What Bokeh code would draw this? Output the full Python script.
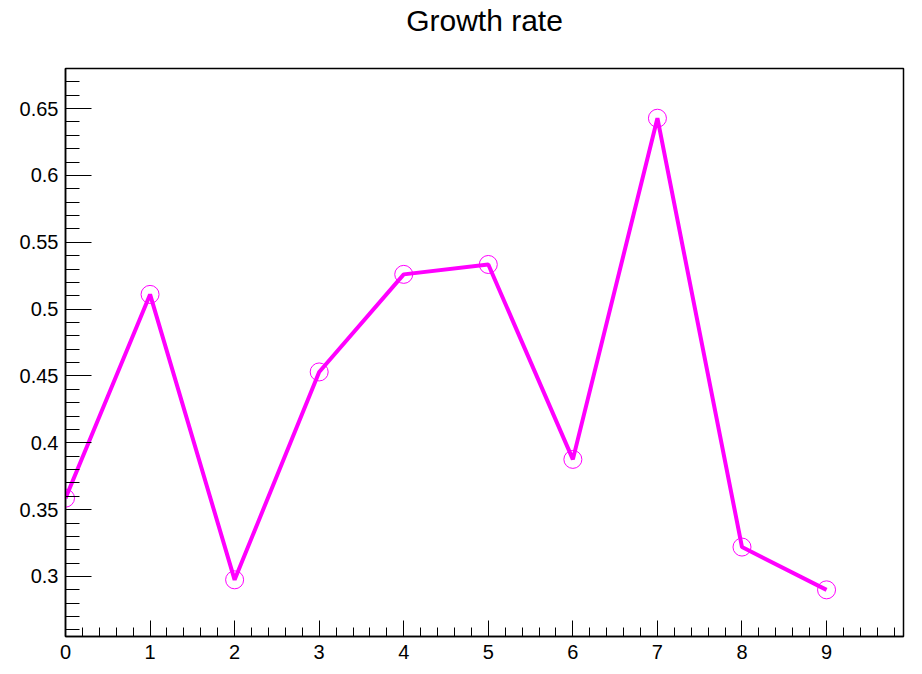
import numpy as np
from bokeh.plotting import figure
from bokeh.models import Range1d, FixedTicker, CustomJSTickFormatter, Title
from bokeh.embed import file_html
from bokeh.resources import INLINE

# data
x_vals = [0, 1, 2, 3, 4, 5, 6, 7, 8, 9]
growth = [0.3586, 0.511, 0.2975, 0.453, 0.526, 0.5334, 0.3876, 0.6428, 0.322, 0.290]
x_major = [0, 1, 2, 3, 4, 5, 6, 7, 8, 9]
y_major = [0.3, 0.35, 0.4, 0.45, 0.5, 0.55, 0.6, 0.65]
title_text = "Growth rate"

x_minor = list(np.round(np.arange(0, 9.81, 0.2), 2))
y_minor = list(np.round(np.arange(0.26, 0.681, 0.01), 3))

FONT = "Liberation Sans"

p = figure(width=914, height=666, output_backend="svg", toolbar_location=None,
           x_range=Range1d(0, 9.91), y_range=Range1d(0.2551, 0.680),
           min_border_left=65, min_border_right=11, min_border_top=68, min_border_bottom=30)
p.title.text = ""

spacer = Title(text=" ", text_font_size="22px", standoff=5, text_font=FONT)
p.add_layout(spacer, "above")
main_title = Title(text=title_text, align="center", text_font=FONT, text_font_size="30px",
                   text_font_style="normal", text_color="black", standoff=0)
p.add_layout(main_title, "above")

p.grid.visible = False
p.outline_line_color = "black"
p.outline_line_width = 1.5
p.background_fill_color = "white"
p.border_fill_color = "white"

xa = p.xaxis[0]
xa.ticker = FixedTicker(ticks=x_major, minor_ticks=x_minor)
xa.major_tick_in = 16
xa.major_tick_out = 0
xa.minor_tick_in = 9
xa.minor_tick_out = 0
ya = p.yaxis[0]
ya.ticker = FixedTicker(ticks=y_major, minor_ticks=y_minor)
ya.formatter = CustomJSTickFormatter(code="return tick.toFixed(2).replace(/0$/, '');")
ya.major_tick_in = 26
ya.major_tick_out = 0
ya.minor_tick_in = 14
ya.minor_tick_out = 0
for ax in (xa, ya):
    ax.axis_line_color = "black"
    ax.axis_line_width = 1.5
    ax.major_tick_line_color = "black"
    ax.minor_tick_line_color = "black"
    ax.major_tick_line_width = 1
    ax.minor_tick_line_width = 1
    ax.major_label_text_font = FONT
    ax.major_label_text_font_size = "20px"
    ax.major_label_text_color = "black"
xa.major_label_standoff = 8
ya.major_label_standoff = 7

p.line(x_vals, growth, line_color="#ff00ff", line_width=4)
p.scatter(x_vals, growth, marker="circle", size=18, fill_color=None,
          line_color="#ff00ff", line_width=1)

open("out.html", "w").write(file_html(p, INLINE))
